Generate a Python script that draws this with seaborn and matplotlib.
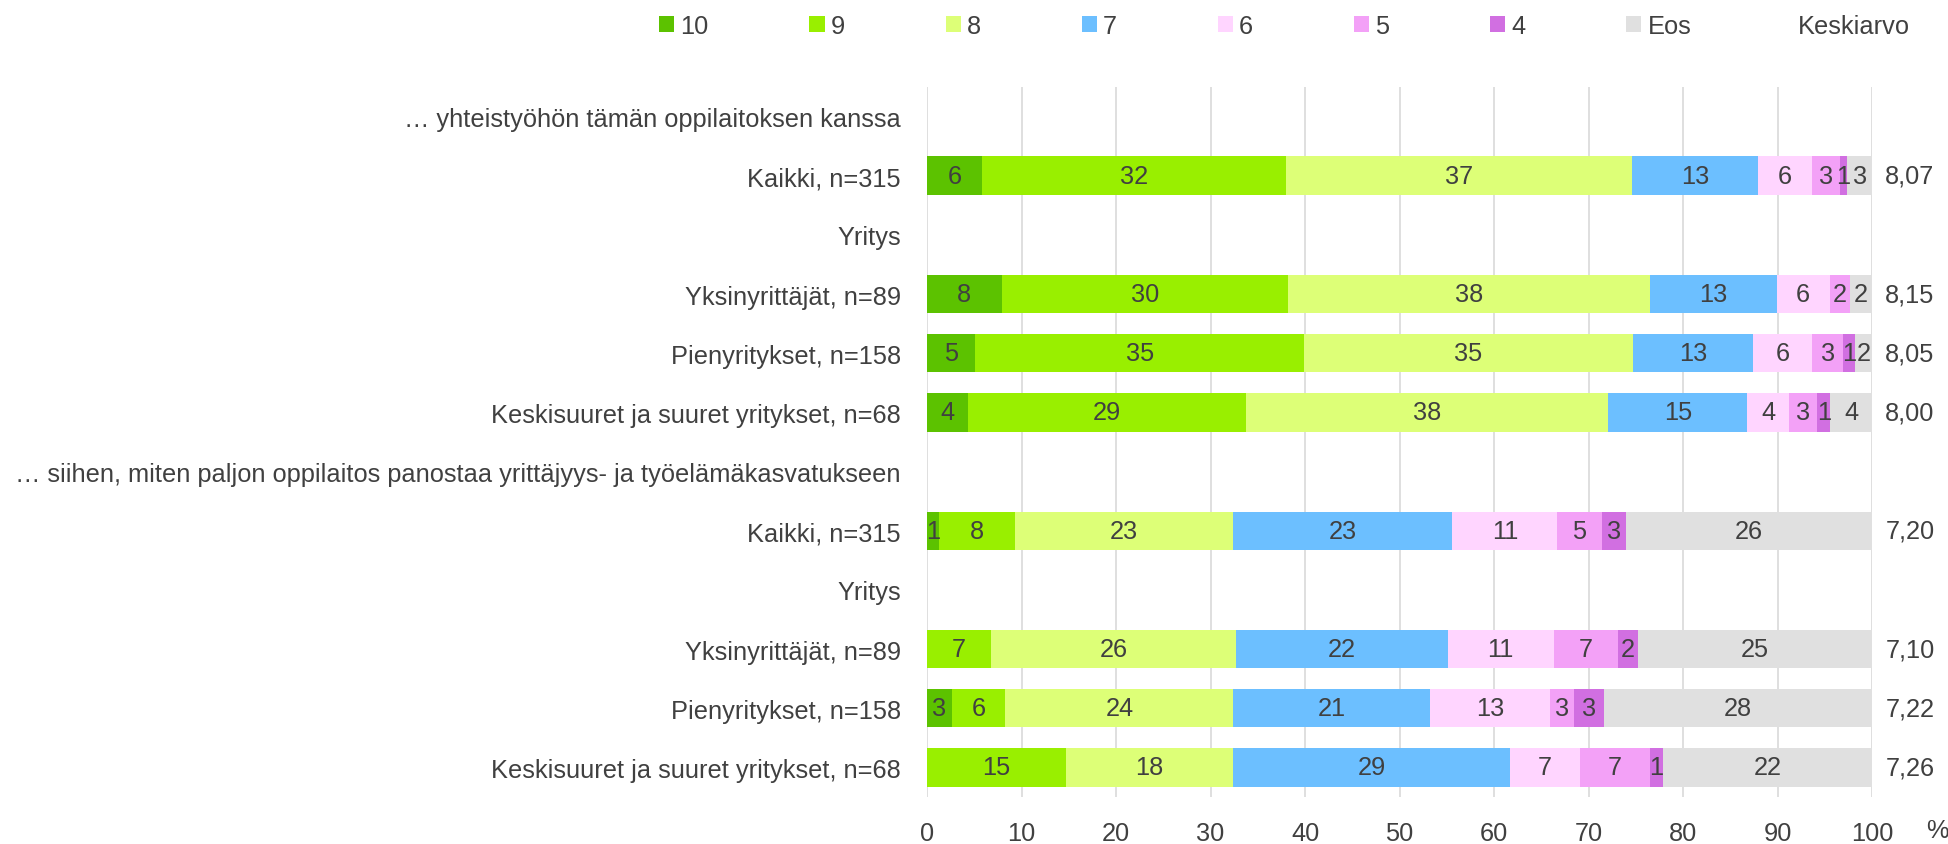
import numpy as np
import pandas as pd
import seaborn as sns
import matplotlib.pyplot as plt
from matplotlib.patches import Patch

# rivit ylhäältä alas
rows = ["… yhteistyöhön tämän oppilaitoksen kanssa", "Kaikki, n=315", "Yritys",
        "Yksinyrittäjät, n=89", "Pienyritykset, n=158", "Keskisuuret ja suuret yritykset, n=68",
        "… siihen, miten paljon oppilaitos panostaa yrittäjyys- ja työelämäkasvatukseen",
        "Kaikki, n=315", "Yritys",
        "Yksinyrittäjät, n=89", "Pienyritykset, n=158", "Keskisuuret ja suuret yritykset, n=68"]

series_names = ["10", "9", "8", "7", "6", "5", "4", "Eos"]
s10 = [0, 5.8, 0, 7.9, 5.1, 4.3, 0, 1.3, 0, 0, 2.6, 0]
s9 = [0, 32.2, 0, 30.3, 34.8, 29.4, 0, 8.0, 0, 6.8, 5.7, 14.7]
s8 = [0, 36.6, 0, 38.3, 34.8, 38.4, 0, 23.1, 0, 25.9, 24.1, 17.7]
s7 = [0, 13.3, 0, 13.4, 12.7, 14.7, 0, 23.2, 0, 22.4, 20.8, 29.3]
s6 = [0, 5.8, 0, 5.6, 6.3, 4.4, 0, 11.1, 0, 11.2, 12.7, 7.4]
s5 = [0, 2.9, 0, 2.2, 3.2, 3.0, 0, 4.7, 0, 6.8, 2.6, 7.4]
s4 = [0, 0.8, 0, 0, 1.3, 1.4, 0, 2.6, 0, 2.1, 3.1, 1.4]
eos = [0, 2.6, 0, 2.3, 1.8, 4.4, 0, 26.0, 0, 24.8, 28.4, 22.1]
means = ["", "8,07", "", "8,15", "8,05", "8,00", "", "7,20", "", "7,10", "7,22", "7,26"]

colors = ["#5cc200", "#99ef00", "#ddff77", "#6cbfff", "#ffd5ff", "#f3a1f7", "#d16fe1", "#e0e0e0"]
txt = "#404040"

sns.set_theme(style="white")
plt.rcParams['font.family'] = ['Liberation Sans', 'DejaVu Sans']
fs = 18.3

data = np.array([s10, s9, s8, s7, s6, s5, s4, eos])
cum = np.cumsum(data, axis=0)
row_ids = [str(i) for i in range(len(rows))]

fig = plt.figure(figsize=(19.48, 8.45), dpi=100)
ax = fig.add_axes([0.4759, 0.0556, 0.961 - 0.4759, 0.8959 - 0.0556])

for x in range(0, 101, 10):
    ax.axvline(x, color="#d9d9d9", lw=1.2, zorder=0)

# pinotut palkit: piirretään kumulatiiviset summat takaperin
for k in range(len(series_names) - 1, -1, -1):
    df = pd.DataFrame({"row": row_ids, "val": cum[k]})
    sns.barplot(data=df, x="val", y="row", order=row_ids, orient="h", color=colors[k],
                width=0.65, errorbar=None, saturation=1, linewidth=0, ax=ax, zorder=2)

for i in range(len(rows)):
    for k in range(len(series_names)):
        v = data[k, i]
        if v > 0:
            ax.text(cum[k, i] - v / 2, i, "%.0f" % v, ha="center", va="center",
                    fontsize=fs, color=txt, zorder=3)
    if means[i]:
        ax.text(101.4, i, means[i], ha="left", va="center", fontsize=fs, color=txt)

ax.set_xlim(0, 100)
ax.set_ylim(len(rows) - 0.5, -0.5)
ax.set_xticks(range(0, 101, 10))
ax.set_yticks(range(len(rows)))
ax.set_yticklabels(rows)
ax.set_xlabel("")
ax.set_ylabel("")
ax.tick_params(axis="y", length=0, pad=19, labelsize=fs, labelcolor=txt)
ax.tick_params(axis="x", length=0, pad=17, labelsize=fs, labelcolor=txt)
for sp in ax.spines.values():
    sp.set_visible(False)
ax.grid(False)

fig.text(1926 / 1948, 1 - 831 / 845, "%", ha="left", va="center", fontsize=fs, color=txt)

handles = [Patch(facecolor=c, edgecolor="none") for c in colors]
fig.legend(handles, series_names, loc="center left", bbox_to_anchor=(659 / 1948, 1 - 27 / 845),
           ncol=8, frameon=False, fontsize=fs, handlelength=0.6, handleheight=0.6,
           handletextpad=0.25, columnspacing=3.95, labelcolor=txt, borderaxespad=0, borderpad=0)
fig.text(1798 / 1948, 1 - 27 / 845, "Keskiarvo", ha="left", va="center", fontsize=fs, color=txt)

fig.savefig("out.png", dpi=100)
